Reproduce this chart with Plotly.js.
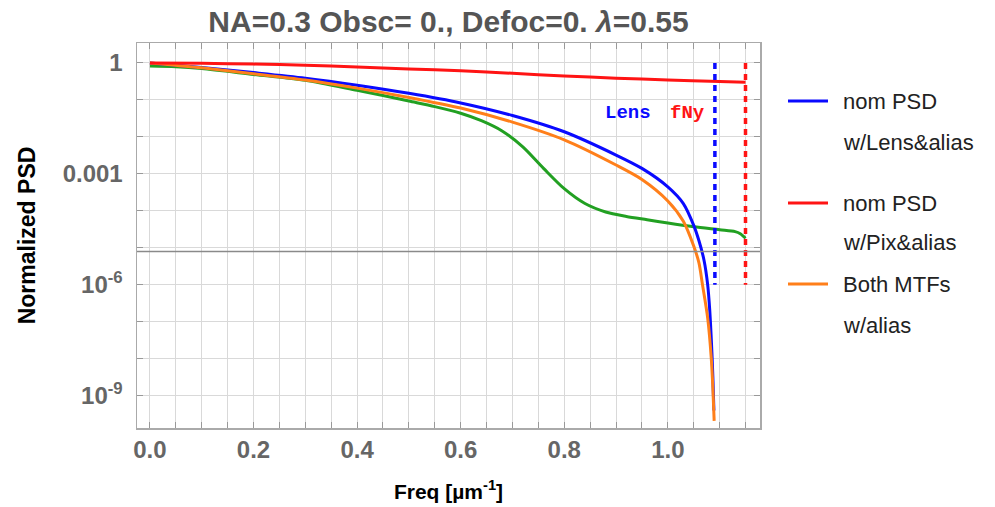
<!DOCTYPE html>
<html>
<head>
<meta charset="utf-8">
<script src="https://cdn.plot.ly/plotly-3.0.1.min.js"></script>
<style>html,body{margin:0;padding:0;background:#fff;}#chart{width:995px;height:507px;}</style>
</head>
<body>
<div id="chart"></div>
<script>
// ---- data ----
const freqLens = [0, 0.1, 0.2, 0.3, 0.4, 0.5, 0.6, 0.7, 0.8, 0.9, 0.95, 1.0, 1.03, 1.05, 1.06, 1.07, 1.077, 1.081, 1.085, 1.087, 1.089];
const psdLens  = [1, 0.759, 0.550, 0.389, 0.251, 0.151, 0.0832, 0.038, 0.0138, 0.00324, 0.00141, 4.47e-4, 1.58e-4, 4.07e-5, 1.58e-5, 4.57e-6, 1e-6, 2e-7, 1.6e-8, 3.2e-9, 4e-10];

const freqPix = [0, 0.1, 0.2, 0.3, 0.4, 0.5, 0.6, 0.7, 0.8, 0.9, 1.0, 1.1, 1.15];
const psdPix  = [1, 0.977, 0.933, 0.871, 0.776, 0.692, 0.617, 0.525, 0.447, 0.389, 0.347, 0.316, 0.302];

const freqBoth = [0, 0.1, 0.2, 0.3, 0.4, 0.5, 0.6, 0.7, 0.8, 0.9, 0.95, 1.0, 1.03, 1.05, 1.06, 1.067, 1.077, 1.084, 1.087, 1.0895];
const psdBoth  = [1, 0.741, 0.513, 0.347, 0.209, 0.117, 0.0603, 0.0251, 0.00832, 0.00174, 7.08e-4, 1.86e-4, 5.25e-5, 1.12e-5, 3.98e-6, 1e-6, 1.26e-7, 1e-8, 1.6e-9, 2.1e-10];

const freqGreen = [0, 0.05, 0.1, 0.2, 0.3, 0.4, 0.45, 0.5, 0.55, 0.60, 0.64, 0.68, 0.72, 0.76, 0.80, 0.84, 0.88, 0.92, 0.96, 1.00, 1.05, 1.10, 1.13, 1.14, 1.15];
const psdGreen  = [0.83, 0.794, 0.708, 0.490, 0.339, 0.182, 0.132, 0.0933, 0.0661, 0.0437, 0.0275, 0.0145, 0.00537, 0.00141, 3.98e-4, 1.58e-4, 9.33e-5, 7.08e-5, 5.75e-5, 4.68e-5, 3.72e-5, 3.09e-5, 2.75e-5, 2.4e-5, 1.82e-5];

const lensCutoff = [1.0909, 1.0909];
const pixNyquist = [1.15, 1.15];
const markerSpan = [1, 1e-6];
const thresholdLevel = [8e-6, 8e-6];
const xRange = [-0.025, 1.178];
const yLogRange = [-9.87, 0.54];

const xTickVals = [0, 0.2, 0.4, 0.6, 0.8, 1.0];
const xTickText = ["0.0", "0.2", "0.4", "0.6", "0.8", "1.0"];
const xFineStep = 0.05;
const yTickVals = [1, 1e-3, 1e-6, 1e-9];
const yTickText = ["1", "0.001", "10<sup>-6</sup>", "10<sup>-9</sup>"];
const yDecadeVals = [1, 1e-1, 1e-2, 1e-3, 1e-4, 1e-5, 1e-6, 1e-7, 1e-8, 1e-9];

const legendNames = [["nom PSD", "w/Lens&alias"], ["nom PSD", "w/Pix&alias"], ["Both MTFs", "w/alias"]];
const legendColors = ["#0a0aff", "#ff1414", "#ff7f1a"];

// ---- styling ----
const BLUE = "#0a0aff", RED = "#ff1414", ORANGE = "#ff7f1a", GREEN = "#22a022";
const lw = 3;
const spl = {shape: "spline", smoothing: 0.8};

const traces = [
  {x: freqGreen, y: psdGreen, mode: "lines", line: Object.assign({color: GREEN, width: lw}, spl)},
  {x: freqLens, y: psdLens, mode: "lines", line: Object.assign({color: BLUE, width: lw}, spl)},
  {x: freqBoth, y: psdBoth, mode: "lines", line: Object.assign({color: ORANGE, width: lw}, spl)},
  {x: freqPix, y: psdPix, mode: "lines", line: Object.assign({color: RED, width: lw}, spl)},
  {x: lensCutoff, y: markerSpan, mode: "lines", line: {color: BLUE, width: 3.5, dash: "6px,5px"}},
  {x: pixNyquist, y: markerSpan, mode: "lines", line: {color: RED, width: 3.5, dash: "6px,5px"}},
  {x: xRange, y: thresholdLevel, xaxis: "x2", yaxis: "y2", mode: "lines", line: {color: "#8a8a8a", width: 1.5}, hoverinfo: "skip"}
];

const L = 137, R = 760, T = 43, B = 428, W = 995, H = 507;
const px2paperX = p => (p - L) / (R - L);
const px2paperY = p => (B - p) / (B - T);

const annotations = [
  {text: "<b>Lens</b>", x: px2paperX(628), y: px2paperY(113), xref: "paper", yref: "paper", xanchor: "center", yanchor: "middle", showarrow: false,
   font: {family: "Liberation Mono, monospace", size: 19, color: BLUE}},
  {text: "<b>fNy</b>", x: px2paperX(687), y: px2paperY(113), xref: "paper", yref: "paper", xanchor: "center", yanchor: "middle", showarrow: false,
   font: {family: "Liberation Mono, monospace", size: 19, color: RED}}
];
const shapes = [];
const legendRows = [[101, 142], [203, 243], [284, 325]];
legendNames.forEach((pair, i) => {
  shapes.push({type: "line", xref: "paper", yref: "paper",
    x0: px2paperX(788), x1: px2paperX(828), y0: px2paperY(legendRows[i][0]), y1: px2paperY(legendRows[i][0]),
    line: {color: legendColors[i], width: 3}});
  pair.forEach((t, j) => annotations.push({text: t, xref: "paper", yref: "paper", xanchor: "left", yanchor: "middle",
    x: px2paperX(841), y: px2paperY(legendRows[i][j]), showarrow: false,
    font: {family: "Liberation Sans, Arial, sans-serif", size: 22, color: "#222"}}));
});

const gridColor = "#d9d9d9";
const layout = {
  width: W, height: H,
  margin: {l: L, r: W - R, t: T, b: H - B, pad: 0},
  paper_bgcolor: "#fff", plot_bgcolor: "#fff",
  showlegend: false,
  font: {family: "Liberation Sans, Arial, sans-serif"},
  title: {text: "NA=0.3 Obsc= 0., Defoc=0. <i>λ</i>=0.55", x: 0.5, xref: "paper", xanchor: "center",
    y: 1 - 21 / H, yref: "container", yanchor: "middle",
    font: {size: 30, color: "#555", weight: "bold"}},
  xaxis: {
    range: xRange, tickvals: xTickVals, ticktext: xTickText,
    ticks: "", showline: true, linecolor: "#aaa", linewidth: 1.5, mirror: true,
    showgrid: false, zeroline: false,
    tickfont: {size: 24, color: "#666", weight: "bold"},
    title: {text: "Freq [µm<sup>-1</sup>]", font: {size: 21, color: "#000", weight: "bold"}, standoff: 22}
  },
  xaxis2: {
    range: xRange, overlaying: "x", side: "bottom",
    tick0: 0, dtick: xFineStep, showticklabels: false,
    ticks: "inside", ticklen: 6, tickcolor: "#999",
    showline: true, linecolor: "#aaa", linewidth: 1.5, mirror: "ticks",
    showgrid: true, gridcolor: gridColor, gridwidth: 1, zeroline: false
  },
  yaxis: {
    type: "log", range: yLogRange, tickvals: yTickVals, ticktext: yTickText,
    ticks: "", showline: true, linecolor: "#aaa", linewidth: 1.5, mirror: true,
    showgrid: false, zeroline: false,
    ticklabelstandoff: 8,
    tickfont: {size: 24, color: "#666", weight: "bold"},
    title: {text: "Normalized PSD", font: {size: 23, color: "#000", weight: "bold"}, standoff: 20}
  },
  yaxis2: {
    type: "log", range: yLogRange, overlaying: "y", side: "left",
    tickvals: yDecadeVals, showticklabels: false,
    ticks: "inside", ticklen: 6, tickcolor: "#999",
    showline: true, linecolor: "#aaa", linewidth: 1.5, mirror: "ticks",
    showgrid: true, gridcolor: gridColor, gridwidth: 1, zeroline: false
  },
  annotations: annotations,
  shapes: shapes
};

Plotly.newPlot("chart", traces, layout, {staticPlot: true, displayModeBar: false});
</script>
</body>
</html>
